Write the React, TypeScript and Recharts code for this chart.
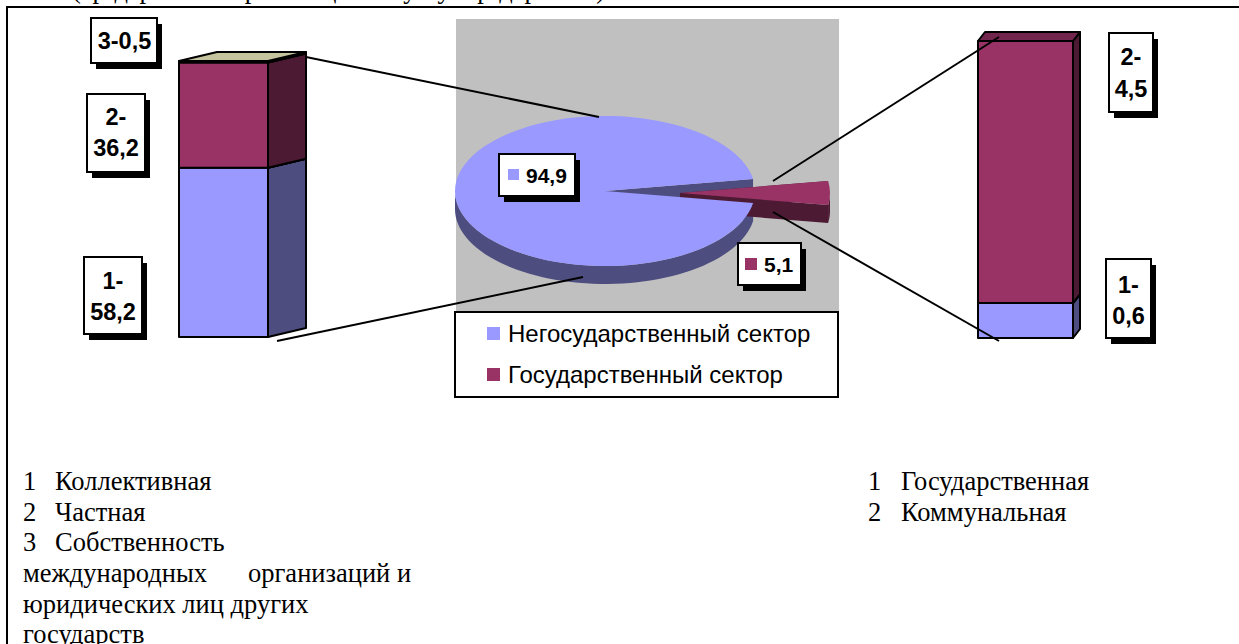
import React from 'react';
import { BarChart, Bar, XAxis, YAxis, PieChart, Pie, Cell, Legend, LabelList } from 'recharts';

// ---------- data ----------
const pieNames = ['Негосударственный сектор', 'Государственный сектор'];
const pieValues = [94.9, 5.1];
const leftIds = ['1', '2', '3'];
const leftValues = [58.2, 36.2, 0.5];
const rightIds = ['1', '2'];
const rightValues = [0.6, 4.5];
const leftNotes = ['Коллективная', 'Частная', 'Собственность'];
const leftNoteTail = ['международных', 'организаций и', 'юридических лиц других', 'государств'];
const rightNotes = ['Государственная', 'Коммунальная'];
const topLine = '(предприятия и организации без услуг предприятий)';

// ---------- styles ----------
const W = 1239;
const H = 644;
const SANS = '"Liberation Sans", Arial, sans-serif';
const SERIF = '"Liberation Serif", "Times New Roman", serif';
const BLUE = '#9999FF';
const RED = '#993366';
const FRONT = [BLUE, RED, '#FFFFCC'];
const SIDE = ['#4D4D80', '#4D1A33', '#808066'];
const TOP = ['#7373BF', '#73264D', '#C4C49E'];
const PIE_FILL = [BLUE, RED];
const PIE_DARK = ['#4D4D80', '#4D1A33'];

const fmt = (v: number) => String(v).replace('.', ',');

const leftRow: Record<string, any> = { name: 'left' };
leftIds.forEach((id, i) => (leftRow['s' + id] = leftValues[i]));
const rightRow: Record<string, any> = { name: 'right' };
rightIds.forEach((id, i) => (rightRow['s' + id] = rightValues[i]));
const pieData = pieNames.map((name, i) => ({ name, value: pieValues[i] }));
const leftTotal = leftValues.reduce((a, b) => a + b, 0);
const rightTotal = rightValues.reduce((a, b) => a + b, 0);

// ---------- 3D bar ----------
const makeBox = (dx: number, dy: number, idx: number) => (p: any) => {
  const { x, y, width, height } = p;
  const side = `${x + width},${y} ${x + width + dx},${y - dy} ${x + width + dx},${y + height - dy} ${x + width},${y + height}`;
  const top = `${x},${y} ${x + dx},${y - dy} ${x + width + dx},${y - dy} ${x + width},${y}`;
  const common = { stroke: '#000', strokeWidth: 2, strokeLinejoin: 'round' as const };
  return (
    <g>
      <polygon points={side} fill={SIDE[idx]} {...common} />
      <polygon points={top} fill={TOP[idx]} {...common} />
      <rect x={x} y={y} width={width} height={height} fill={FRONT[idx]} {...common} />
    </g>
  );
};

// ---------- boxed value label ----------
type BoxSpec = { x: number; y: number; w: number; h: number; base: number[]; cx: number };
const ValueBox = ({ spec, lines }: { spec: BoxSpec; lines: string[] }) => (
  <g>
    <rect x={spec.x + 5} y={spec.y + 6} width={spec.w} height={spec.h} fill="#000" />
    <rect x={spec.x} y={spec.y} width={spec.w} height={spec.h} fill="#fff" stroke="#000" strokeWidth={2} />
    {lines.map((l, i) => (
      <text key={i} x={spec.cx} y={spec.base[i]} textAnchor="middle" fontFamily={SANS} fontWeight={700} fontSize={23.5} fill="#000">
        {l}
      </text>
    ))}
  </g>
);

const LEFT_BOXES: BoxSpec[] = [
  { x: 84, y: 257, w: 58, h: 77, cx: 113, base: [289, 320] },
  { x: 87, y: 94, w: 58, h: 78, cx: 116, base: [125, 156] },
  { x: 91, y: 18, w: 66, h: 45, cx: 124.5, base: [49] },
];
const RIGHT_BOXES: BoxSpec[] = [
  { x: 1106, y: 259, w: 45, h: 79, cx: 1128.5, base: [293, 324] },
  { x: 1109, y: 33, w: 44, h: 79, cx: 1131, base: [65, 97] },
];

const barLabel = (ids: string[], boxes: BoxSpec[], idx: number, oneLine: boolean) => (p: any) => {
  const txt = fmt(p.value);
  const lines = oneLine ? [`${ids[idx]}-${txt}`] : [`${ids[idx]}-`, txt];
  return <ValueBox spec={boxes[idx]} lines={lines} />;
};

// ---------- 3D pie ----------
const RY_RATIO = 0.5;
const DEPTH = 18;
const RAD = Math.PI / 180;
const EXPLODE = [
  { dx: 0, dy: 0 },
  { dx: 75, dy: 2 },
];
const sectorIndex = (p: any) => pieNames.indexOf(p.name ?? p.payload?.name);
const pt = (cx: number, cy: number, r: number, a: number) => [cx + r * Math.cos(a * RAD), cy - r * RY_RATIO * Math.sin(a * RAD)];

const PieWalls = (p: any) => {
  const i = sectorIndex(p);
  const cx = p.cx + EXPLODE[i].dx;
  const cy = p.cy + EXPLODE[i].dy;
  const r = p.outerRadius;
  const s = p.startAngle;
  const e = p.endAngle;
  const upper: number[][] = [];
  const from = Math.max(s, 180);
  const to = Math.min(e, 360);
  for (let a = from; a <= to + 0.001; a += (to - from) / 60) upper.push(pt(cx, cy, r, a));
  const rim = upper
    .concat(upper.slice().reverse().map(([x, y]) => [x, y + DEPTH]))
    .map((q) => q.join(','))
    .join(' ');
  const wall = (a: number) => {
    const [x, y] = pt(cx, cy, r, a);
    return `${cx},${cy} ${x},${y} ${x},${y + DEPTH} ${cx},${cy + DEPTH}`;
  };
  return (
    <g>
      <polygon points={wall(s)} fill={PIE_DARK[i]} />
      <polygon points={wall(e)} fill={PIE_DARK[i]} />
      <polygon points={rim} fill={PIE_DARK[i]} />
    </g>
  );
};

const PieTop = (p: any) => {
  const i = sectorIndex(p);
  const cx = p.cx + EXPLODE[i].dx;
  const cy = p.cy + EXPLODE[i].dy;
  const r = p.outerRadius;
  const [x1, y1] = pt(cx, cy, r, p.startAngle);
  const [x2, y2] = pt(cx, cy, r, p.endAngle);
  const large = p.endAngle - p.startAngle > 180 ? 1 : 0;
  const d = `M${cx},${cy} L${x1},${y1} A${r},${r * RY_RATIO} 0 ${large} 0 ${x2},${y2} Z`;
  return <path d={d} fill={PIE_FILL[i]} />;
};

const PIE_BOXES = [
  { x: 499, y: 154, w: 76, h: 42, sx: 508, sy: 169, ss: 11, tx: 526, ty: 183, fs: 21 },
  { x: 738, y: 243, w: 63, h: 42, sx: 745, sy: 258, ss: 12, tx: 764, ty: 272, fs: 21 },
];
const pieLabel = (p: any) => {
  const i = p.index;
  const b = PIE_BOXES[i];
  return (
    <g key={i}>
      <rect x={b.x + 5} y={b.y + 6} width={b.w} height={b.h} fill="#000" />
      <rect x={b.x} y={b.y} width={b.w} height={b.h} fill="#fff" stroke="#000" strokeWidth={2} />
      <rect x={b.sx} y={b.sy} width={b.ss} height={b.ss} fill={PIE_FILL[i]} />
      <text x={b.tx} y={b.ty} fontFamily={SANS} fontWeight={700} fontSize={b.fs} fill="#000">
        {fmt(pieValues[i])}
      </text>
    </g>
  );
};

const PieLegend = () => (
  <div
    style={{
      boxSizing: 'border-box',
      width: 385,
      height: 87,
      background: '#fff',
      border: '2px solid #000',
      fontFamily: SANS,
      fontSize: 24,
      color: '#000',
      position: 'relative',
    }}
  >
    {pieNames.map((n, i) => (
      <div key={n} style={{ position: 'absolute', left: 0, top: 7 + i * 41, height: 28, lineHeight: '28px', whiteSpace: 'nowrap' }}>
        <span style={{ position: 'absolute', left: 31, top: 7, width: 13, height: 13, background: PIE_FILL[i] }} />
        <span style={{ position: 'absolute', left: 52, top: 0 }}>{n}</span>
      </div>
    ))}
  </div>
);

const abs: React.CSSProperties = { position: 'absolute', left: 0, top: 0 };

export default function App() {
  const note = { fontFamily: SERIF, fontSize: 26.5, fill: '#000' };
  return (
    <div style={{ position: 'absolute', left: 0, top: 0, width: W, height: H, overflow: 'hidden', background: '#fff' }}>
      <svg width={W} height={H} style={abs}>
        <text x={72} y={-2} textLength={533} {...note}>{topLine}</text>
        <line x1={6} y1={7} x2={W} y2={7} stroke="#000" strokeWidth={2} />
        <line x1={7} y1={6} x2={7} y2={H} stroke="#000" strokeWidth={2} />
        <rect x={456} y={19} width={383} height={292} fill="#C0C0C0" />
      </svg>

      <div style={abs}>
        <PieChart width={W} height={H} margin={{ top: 0, left: 0, right: 0, bottom: 0 }}>
          <Pie
            data={pieData}
            dataKey="value"
            nameKey="name"
            cx={605}
            cy={191}
            outerRadius={150}
            startAngle={9.18}
            endAngle={369.18}
            stroke="none"
            legendType="none"
            isAnimationActive={false}
            shape={PieWalls}
          />
          <Pie
            data={pieData}
            dataKey="value"
            nameKey="name"
            cx={605}
            cy={191}
            outerRadius={150}
            startAngle={9.18}
            endAngle={369.18}
            stroke="none"
            isAnimationActive={false}
            shape={PieTop}
            label={pieLabel}
            labelLine={false}
          >
            {pieData.map((d, i) => (
              <Cell key={d.name} fill={PIE_FILL[i]} />
            ))}
          </Pie>
          <Legend content={<PieLegend />} wrapperStyle={{ position: 'absolute', left: 454, top: 311, width: 385, height: 87, bottom: 'auto' }} />
        </PieChart>
      </div>

      <div style={abs}>
        <BarChart width={W} height={H} data={[leftRow]} margin={{ left: 179, right: W - 268, top: 61, bottom: H - 337 }} barCategoryGap={0}>
          <XAxis dataKey="name" hide />
          <YAxis hide domain={[0, leftTotal]} />
          {leftIds.map((id, i) => (
            <Bar key={id} dataKey={'s' + id} stackId="a" isAnimationActive={false} shape={makeBox(38, 9, i)}>
              <LabelList dataKey={'s' + id} content={barLabel(leftIds, LEFT_BOXES, i, i === 2)} />
            </Bar>
          ))}
        </BarChart>
      </div>

      <div style={abs}>
        <BarChart width={W} height={H} data={[rightRow]} margin={{ left: 978, right: W - 1073, top: 41, bottom: H - 338 }} barCategoryGap={0}>
          <XAxis dataKey="name" hide />
          <YAxis hide domain={[0, rightTotal]} />
          {rightIds.map((id, i) => (
            <Bar key={id} dataKey={'s' + id} stackId="a" isAnimationActive={false} shape={makeBox(7, 9, i)}>
              <LabelList dataKey={'s' + id} content={barLabel(rightIds, RIGHT_BOXES, i, false)} />
            </Bar>
          ))}
        </BarChart>
      </div>

      <svg width={W} height={H} style={{ ...abs, pointerEvents: 'none' }}>
        <g stroke="#000" strokeWidth={2}>
          <line x1={306} y1={57} x2={599} y2={117} />
          <line x1={277} y1={341} x2={583} y2={277} />
          <line x1={773} y1={181} x2={999} y2={37} />
          <line x1={773} y1={212} x2={999} y2={341} />
        </g>
        {leftNotes.map((t, i) => (
          <g key={t}>
            <text x={23} y={490 + i * 30.6} {...note}>{i + 1}</text>
            <text x={55} y={490 + i * 30.6} {...note}>{t}</text>
          </g>
        ))}
        <text x={23} y={582} {...note}>{leftNoteTail[0]}</text>
        <text x={248} y={582} {...note}>{leftNoteTail[1]}</text>
        <text x={23} y={612.6} {...note}>{leftNoteTail[2]}</text>
        <text x={23} y={643} {...note}>{leftNoteTail[3]}</text>
        {rightNotes.map((t, i) => (
          <g key={t}>
            <text x={868} y={490 + i * 30.6} {...note}>{i + 1}</text>
            <text x={901} y={490 + i * 30.6} {...note}>{t}</text>
          </g>
        ))}
      </svg>
    </div>
  );
}
